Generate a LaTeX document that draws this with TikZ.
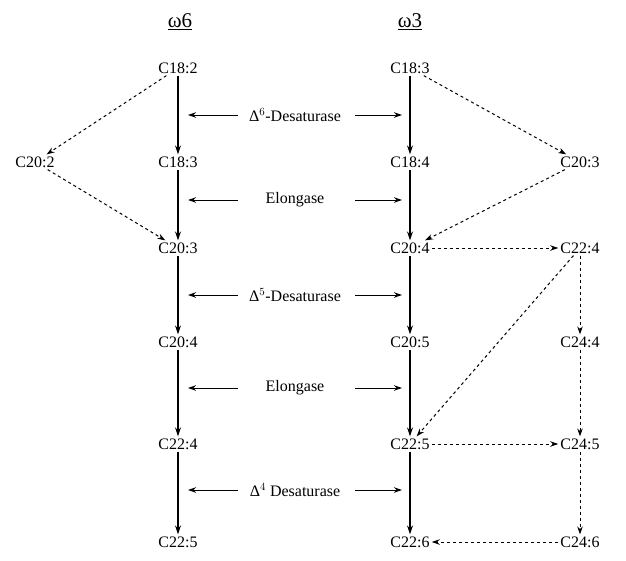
\documentclass[tikz,border=0pt]{standalone}
\usepackage{fontspec}
\setmainfont{Liberation Serif}
\usetikzlibrary{arrows.meta}
\begin{document}
\begin{tikzpicture}[x=1pt,y=-1pt,
  fa/.style={font=\fontsize{16}{18}\selectfont, inner sep=2pt},
  sol/.style={-{Stealth[length=9pt,width=6pt]}, line width=1.5pt},
  dsh/.style={-{Stealth[length=8pt,width=5.5pt]}, dashed, line width=1pt},
  lab/.style={-{Stealth[length=8pt,width=5.5pt]}, line width=1pt}]
\useasboundingbox (0,0) rectangle (626,560);
\node[font=\fontsize{21}{23}\selectfont] (t6) at (180,22) {\underline{ω6}};
\node[font=\fontsize{21}{23}\selectfont] (t3) at (410,22) {\underline{ω3}};
\node[fa] (a1) at (178,68) {C18:2};
\node[fa] (a2) at (178,162) {C18:3};
\node[fa] (a3) at (178,248) {C20:3};
\node[fa] (a4) at (178,342) {C20:4};
\node[fa] (a5) at (178,444) {C22:4};
\node[fa] (a6) at (178,542) {C22:5};
\node[fa] (x) at (35,162) {C20:2};
\node[fa] (b1) at (410,68) {C18:3};
\node[fa] (b2) at (410,162) {C18:4};
\node[fa] (b3) at (410,248) {C20:4};
\node[fa] (b4) at (410,342) {C20:5};
\node[fa] (b5) at (410,444) {C22:5};
\node[fa] (b6) at (410,542) {C22:6};
\node[fa] (c2) at (580,162) {C20:3};
\node[fa] (c3) at (580,248) {C22:4};
\node[fa] (c4) at (580,342) {C24:4};
\node[fa] (c5) at (580,444) {C24:5};
\node[fa] (c6) at (580,542) {C24:6};
\foreach \i/\j in {1/2,2/3,3/4,4/5,5/6}{
  \draw[sol] (a\i) -- (a\j);
  \draw[sol] (b\i) -- (b\j);}
\foreach \y/\t [count=\k] in {115/{Δ$^6$-Desaturase},200/{Elongase},295/{Δ$^5$-Desaturase},388/{Elongase},490/{Δ$^4$ Desaturase}}{
  \node[fa] (l\k) at (295,\y) {\t};
  \coordinate (ll\k) at (188,\y);
  \coordinate (lr\k) at (402,\y);
  \draw[lab] (238,\y) -- (ll\k);
  \draw[lab] (355,\y) -- (lr\k);}
\draw[dsh] (a1) -- (x);
\draw[dsh] (x) -- (a3);
\draw[dsh] (b1) -- (c2);
\draw[dsh] (c2) -- (b3);
\draw[dsh] (b3) -- (c3);
\draw[dsh] (c3) -- (c4);
\draw[dsh] (c4) -- (c5);
\draw[dsh] (c5) -- (c6);
\draw[dsh] (c6) -- (b6);
\draw[dsh] (c3) -- (b5);
\draw[dsh] (b5) -- (c5);
\end{tikzpicture}
\end{document}
